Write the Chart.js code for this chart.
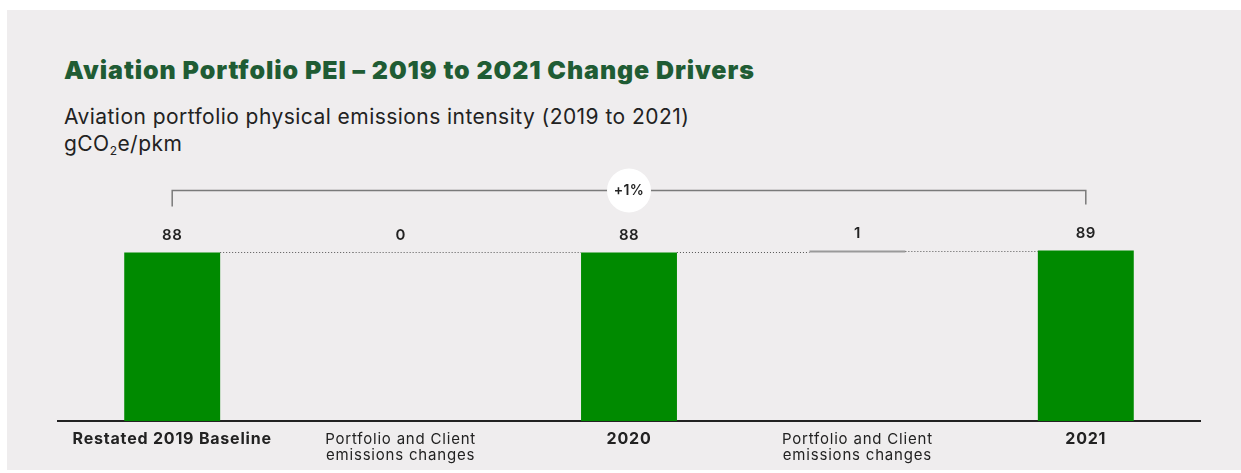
<!DOCTYPE html>
<html>
<head>
<meta charset="utf-8">
<script src="https://cdn.jsdelivr.net/npm/chart.js@4.4.1/dist/chart.umd.min.js"></script>
<style>
  html, body { margin: 0; padding: 0; background: #fff; }
  body { width: 1241px; height: 473px; position: relative; overflow: hidden; font-family: Inter, "Noto Sans", sans-serif; }
  .panel { position: absolute; left: 7px; top: 10px; right: 0; bottom: 3px; background: #efedee; }
  h1 { position: absolute; left: 64px; top: 55px; margin: 0; font-size: 25px; line-height: 30px; font-weight: 900; color: #1f5c34; letter-spacing: 0.9px; white-space: nowrap; }
  .sub { position: absolute; left: 64px; top: 103px; margin: 0; font-size: 21px; line-height: 27px; color: #222; letter-spacing: 0.45px; white-space: nowrap; }
  .sub sub { font-size: 12px; vertical-align: -4px; line-height: 0; }
  #wrap { position: absolute; left: 0; top: 150px; width: 1241px; height: 323px; }
</style>
</head>
<body>
<div class="panel"></div>
<h1>Aviation Portfolio PEI – 2019 to 2021 Change Drivers</h1>
<div class="sub">Aviation portfolio physical emissions intensity (2019 to 2021)<br>gCO<sub>2</sub>e/pkm</div>
<div id="wrap"><canvas id="myChart" width="1241" height="323"></canvas></div>
<script>
const categories = [
    'Restated 2019 Baseline',
    ['Portfolio and Client', 'emissions changes'],
    '2020',
    ['Portfolio and Client', 'emissions changes'],
    '2021'
];
const barStart = [0, 88, 0, 88, 0];
const barEnd = [88, 88, 88, 89, 89];
const valueLabels = ['88', '0', '88', '1', '89'];
const isTotal = [true, false, true, false, true];
const changeLabel = '+1%';
const bracketLevel = 120.5;

const green = '#008a00';
const changeGray = '#9a9a9a';

const waterfallExtras = {
    id: 'waterfallExtras',
    beforeDraw(chart) {
        chart.ctx.letterSpacing = '0.8px';
    },
    afterDatasetsDraw(chart) {
        const ctx = chart.ctx;
        const bars = chart.getDatasetMeta(0).data;
        const y = chart.scales.y;

        // dotted connectors, running through zero-height bars
        ctx.save();
        ctx.strokeStyle = '#555';
        ctx.lineWidth = 1;
        ctx.setLineDash([1, 2]);
        for (let i = 0; i < bars.length - 1; i++) {
            const py = Math.round(y.getPixelForValue(barEnd[i])) + 0.5;
            const flat = barStart[i] === barEnd[i];
            const x1 = flat ? bars[i].x - bars[i].width / 2 : bars[i].x + bars[i].width / 2;
            const x2 = bars[i + 1].x - bars[i + 1].width / 2;
            ctx.beginPath();
            ctx.moveTo(x1, py);
            ctx.lineTo(x2, py);
            ctx.stroke();
        }
        ctx.restore();

        // value labels
        ctx.save();
        ctx.letterSpacing = '0.5px';
        ctx.fillStyle = '#222';
        ctx.font = '600 15px Inter, "Noto Sans", sans-serif';
        ctx.textAlign = 'center';
        ctx.textBaseline = 'middle';
        bars.forEach((bar, i) => {
            const top = y.getPixelForValue(Math.max(barStart[i], barEnd[i]));
            ctx.fillText(valueLabels[i], bar.x, top - 17);
        });
        ctx.restore();

        // bracket across the whole period
        const xa = bars[0].x, xb = bars[bars.length - 1].x;
        const by = Math.round(y.getPixelForValue(bracketLevel)) + 0.5;
        ctx.save();
        ctx.strokeStyle = '#7a7a7a';
        ctx.lineWidth = 1.5;
        ctx.beginPath();
        ctx.moveTo(xa, by + 16);
        ctx.lineTo(xa, by);
        ctx.lineTo(xb, by);
        ctx.lineTo(xb, by + 14);
        ctx.stroke();

        const cx = bars[2].x;
        ctx.fillStyle = '#fff';
        ctx.beginPath();
        ctx.arc(cx, by, 22, 0, Math.PI * 2);
        ctx.fill();
        ctx.letterSpacing = '0.3px';
        ctx.fillStyle = '#222';
        ctx.font = '600 14px Inter, "Noto Sans", sans-serif';
        ctx.textAlign = 'center';
        ctx.textBaseline = 'middle';
        ctx.fillText(changeLabel, cx, by);
        ctx.restore();
    }
};

const ctx = document.getElementById('myChart').getContext('2d');
const myChart = new Chart(ctx, {
    type: 'bar',
    data: {
        labels: categories,
        datasets: [{
            data: barStart.map((s, i) => [s, barEnd[i]]),
            backgroundColor: isTotal.map(t => t ? green : changeGray),
            borderWidth: 0,
            borderSkipped: false,
            barPercentage: 0.42,
            categoryPercentage: 1
        }]
    },
    options: {
        responsive: false,
        animation: false,
        layout: { padding: { left: 58, right: 41, top: 22, bottom: 8 } },
        plugins: {
            legend: { display: false },
            tooltip: { enabled: false }
        },
        scales: {
            x: {
                grid: { display: false },
                border: { display: true, color: '#222', width: 2 },
                ticks: {
                    color: '#222',
                    padding: 2,
                    maxRotation: 0,
                    autoSkip: false,
                    font: (c) => ({
                        family: 'Inter, "Noto Sans", sans-serif',
                        size: isTotal[c.index] ? 16 : 15,
                        lineHeight: isTotal[c.index] ? 1 : 16 / 15,
                        weight: isTotal[c.index] ? '700' : '400'
                    })
                }
            },
            y: {
                display: false,
                min: 0,
                max: 130
            }
        }
    },
    plugins: [waterfallExtras]
});
</script>
</body>
</html>
